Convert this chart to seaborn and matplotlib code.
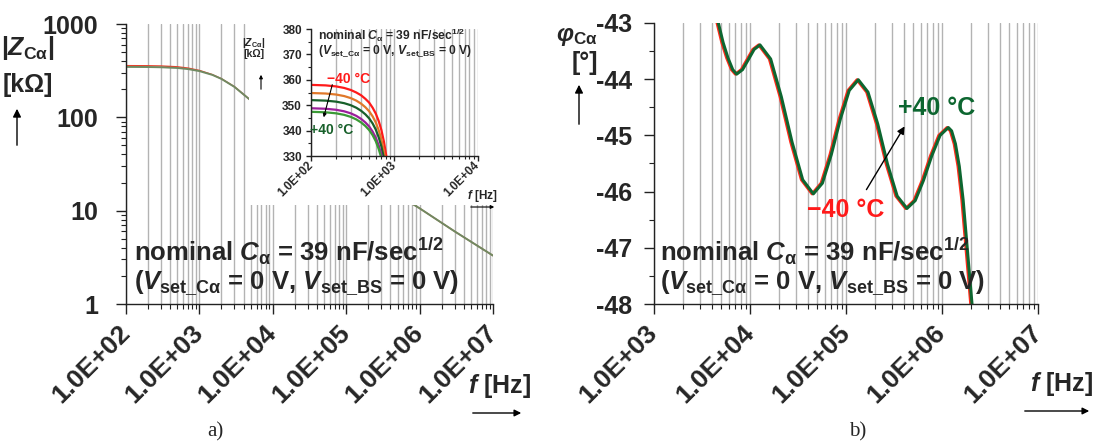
import matplotlib
matplotlib.use("Agg")
import matplotlib.pyplot as plt
import seaborn as sns
import pandas as pd
from matplotlib.patches import Rectangle, FancyArrowPatch
from matplotlib.ticker import LogLocator, NullFormatter, MultipleLocator

# ---------------- data ----------------
f_main = [100, 200, 300, 500, 700, 1000, 1500, 2000, 3000, 5000, 1e4, 3e4, 1e5, 3e5, 1e6, 3e6, 1e7]
z_main_red = [358, 357, 355, 348, 337, 318, 287, 259, 213, 152, 105, 60, 34, 19, 10.6, 6.0, 3.3]
z_main_green = [347, 346, 344, 338, 329, 313, 285, 258, 212, 152, 105, 60, 34, 19, 10.6, 6.0, 3.3]

f_in = [100, 150, 200, 250, 300, 350, 400, 450, 500, 550, 600, 650, 700, 750, 800, 850, 900]
z_in_m40 = [358.0, 357.8, 357.4, 356.8, 356.0, 355.0, 353.9, 352.5, 351.0, 349.0, 346.7, 343.8, 340.3, 335.8, 330.3, 324, 317]
z_in_m20 = [354.8, 354.6, 354.2, 353.6, 352.8, 351.8, 350.6, 349.2, 347.6, 345.6, 343.2, 340.2, 336.6, 332.0, 326.4, 320, 313]
z_in_0 = [352.0, 351.8, 351.4, 350.8, 350.0, 349.0, 347.8, 346.4, 344.8, 342.8, 340.4, 337.4, 333.8, 329.2, 323.6, 317, 310]
z_in_p20 = [348.8, 348.6, 348.2, 347.6, 346.8, 345.8, 344.6, 343.2, 341.6, 339.6, 337.2, 334.2, 330.6, 326.0, 320.4, 314, 307]
z_in_p40 = [347.4, 347.2, 346.8, 346.2, 345.4, 344.4, 343.2, 341.8, 340.2, 338.2, 335.8, 332.8, 329.2, 324.6, 319.0, 313, 306]
inset_colors = ["#ff1a1a", "#e0782a", "#17602a", "#9b1f9b", "#3a9a35"]

f_ph_green = [3.98e3, 4.68e3, 5.25e3, 5.89e3, 6.61e3, 7.26e3, 8.36e3, 9.62e3, 1.104e4, 1.271e4,
              1.641e4, 2.118e4, 2.742e4, 3.54e4, 4.571e4, 5.675e4, 7.031e4, 8.73e4, 1.081e5, 1.343e5,
              1.694e5, 2.143e5, 2.704e5, 3.412e5, 4.315e5, 5.26e5, 6.412e5, 7.834e5, 9.55e5, 1.164e6,
              1.259e6, 1.38e6, 1.514e6, 1.66e6, 1.82e6, 1.95e6, 2.054e6, 2.239e6]
ph_green = [-42.55, -43.0, -43.35, -43.62, -43.83, -43.91, -43.83, -43.65, -43.47, -43.39,
            -43.64, -44.31, -45.12, -45.79, -46.04, -45.85, -45.34, -44.71, -44.20, -44.01,
            -44.23, -44.80, -45.51, -46.08, -46.30, -46.16, -45.80, -45.36, -45.00, -44.86,
            -44.92, -45.15, -45.55, -46.15, -46.95, -47.55, -48.0, -48.8]
f_ph_red = [3.86e3, 4.54e3, 5.09e3, 5.71e3, 6.41e3, 7.04e3, 8.11e3, 9.33e3, 1.071e4, 1.233e4,
            1.591e4, 2.054e4, 2.66e4, 3.434e4, 4.434e4, 5.505e4, 6.82e4, 8.468e4, 1.049e5, 1.303e5,
            1.643e5, 2.079e5, 2.623e5, 3.31e5, 4.186e5, 5.102e5, 6.22e5, 7.599e5, 9.264e5, 1.129e6,
            1.221e6, 1.339e6, 1.469e6, 1.61e6, 1.765e6, 1.892e6, 1.992e6, 2.172e6]
ph_red = ph_green

x_ticks_a = [1e2, 1e3, 1e4, 1e5, 1e6, 1e7]
x_labels_a = ["1.0E+02", "1.0E+03", "1.0E+04", "1.0E+05", "1.0E+06", "1.0E+07"]
y_ticks_a = [1, 10, 100, 1000]
y_labels_a = ["1", "10", "100", "1000"]
x_ticks_in = [1e2, 1e3, 1e4]
x_labels_in = ["1.0E+02", "1.0E+03", "1.0E+04"]
y_ticks_in = [330, 340, 350, 360, 370, 380]
x_ticks_b = [1e3, 1e4, 1e5, 1e6, 1e7]
x_labels_b = ["1.0E+03", "1.0E+04", "1.0E+05", "1.0E+06", "1.0E+07"]
y_ticks_b = [-48, -47, -46, -45, -44, -43]

# ---------------- style ----------------
sns.set_theme(style="white")
plt.rcParams["font.family"] = ["Liberation Sans", "DejaVu Sans"]
plt.rcParams["font.weight"] = "bold"
plt.rcParams["mathtext.fontset"] = "custom"
plt.rcParams["mathtext.rm"] = "Liberation Sans:bold"
plt.rcParams["mathtext.it"] = "Liberation Sans:italic:bold"
plt.rcParams["mathtext.bf"] = "Liberation Sans:bold"
plt.rcParams["mathtext.sf"] = "Liberation Sans:bold"

W, H = 1111, 445
def fx(x): return x / W
def fy(y): return 1 - y / H
def box(x0, y0, x1, y1): return [fx(x0), fy(y1), (x1 - x0) / W, (y1 - y0) / H]

GRID = "#b3b3b3"
fig = plt.figure(figsize=(W / 100, H / 100), dpi=100)

def style_axes(ax, ylog, xfs, yfs, xpad, ypad, tl):
    for s in ["top", "right"]:
        ax.spines[s].set_visible(False)
    for s in ["left", "bottom"]:
        ax.spines[s].set_color("#222222")
        ax.spines[s].set_linewidth(1.0)
    ax.set_xscale("log")
    if ylog:
        ax.set_yscale("log")
    ax.xaxis.set_minor_locator(LogLocator(base=10, subs=range(2, 10), numticks=20))
    ax.xaxis.set_minor_formatter(NullFormatter())
    ax.tick_params(axis="both", which="major", direction="out", length=tl, width=1, color="#222222",
                   bottom=True, left=True)
    ax.tick_params(axis="both", which="minor", direction="out", length=tl * 0.55, width=0.8, color="#222222",
                   bottom=True, left=True)
    ax.tick_params(axis="x", pad=xpad, labelsize=xfs)
    ax.tick_params(axis="y", pad=ypad, labelsize=yfs)
    ax.grid(True, which="both", axis="x", color=GRID, lw=1.0)
    ax.grid(False, axis="y")
    ax.set_axisbelow(True)
    ax.set_xlabel("")
    ax.set_ylabel("")

# ---------------- panel a ----------------
axA = fig.add_axes(box(126, 24, 493, 304))
sns.lineplot(data=pd.DataFrame({"f": f_main, "z": z_main_red}), x="f", y="z", ax=axA, color="#e8412c", lw=1.0)
sns.lineplot(data=pd.DataFrame({"f": f_main, "z": z_main_green}), x="f", y="z", ax=axA, color="#6f8a62", lw=1.4)
style_axes(axA, True, 19, 18, 11, 13, 7)
axA.set_xlim(1e2, 1e7)
axA.set_ylim(1, 1000)
axA.yaxis.set_minor_locator(LogLocator(base=10, subs=range(2, 10), numticks=20))
axA.yaxis.set_minor_formatter(NullFormatter())
axA.set_xticks(x_ticks_a, x_labels_a, rotation=45, ha="right", va="center", rotation_mode="anchor")
axA.set_yticks(y_ticks_a, y_labels_a)

# white cover for inset
fig.add_artist(Rectangle((fx(249), fy(205)), fx(496) - fx(249), 205 / H, transform=fig.transFigure,
                         facecolor="white", edgecolor="none", zorder=0.5))

axI = fig.add_axes(box(311, 29, 477.5, 156))
axI.set_zorder(1)
for z, c in zip([z_in_m40, z_in_m20, z_in_0, z_in_p20, z_in_p40], inset_colors):
    sns.lineplot(data=pd.DataFrame({"f": f_in, "z": z}), x="f", y="z", ax=axI, color=c, lw=1.6)
style_axes(axI, False, 8.5, 8.5, 2, 3, 3.5)
axI.set_xlim(1e2, 1e4)
axI.set_ylim(330, 380)
axI.yaxis.set_minor_locator(MultipleLocator(5))
axI.set_xticks(x_ticks_in, x_labels_in, rotation=45, ha="right", va="center", rotation_mode="anchor")
axI.set_yticks(y_ticks_in, [str(v) for v in y_ticks_in])

# ---------------- panel b ----------------
axB = fig.add_axes(box(654, 23, 1038, 304))
sns.lineplot(data=pd.DataFrame({"f": f_ph_red, "p": ph_red}), x="f", y="p", ax=axB, color="#ff2a1a", lw=2.2)
sns.lineplot(data=pd.DataFrame({"f": f_ph_green, "p": ph_green}), x="f", y="p", ax=axB, color="#0d6630", lw=2.2)
style_axes(axB, False, 19, 18, 11, 9, 7)
axB.set_xlim(1e3, 1e7)
axB.set_ylim(-48, -43)
axB.yaxis.set_minor_locator(MultipleLocator(0.5))
axB.set_xticks(x_ticks_b, x_labels_b, rotation=45, ha="right", va="center", rotation_mode="anchor")
axB.set_yticks(y_ticks_b, [str(v) for v in y_ticks_b])

# ---------------- annotations ----------------
def arrow(x0, y0, x1, y1, ms=10, lw=1.0):
    fig.add_artist(FancyArrowPatch((fx(x0), fy(y0)), (fx(x1), fy(y1)), transform=fig.transFigure,
                                   arrowstyle="-|>", mutation_scale=ms, lw=lw, color="black", zorder=5))

# left y label
fig.text(fx(28), fy(48), r"$|Z_{\mathrm{C\alpha}}|$", ha="center", va="center", fontsize=18)
fig.text(fx(28), fy(85), "[kΩ]", ha="center", va="center", fontsize=18)
arrow(17, 148, 17, 106, ms=12)
# right y label
fig.text(fx(577), fy(37), r"$\varphi_{\mathrm{C\alpha}}$", ha="center", va="center", fontsize=17.5)
fig.text(fx(585), fy(63), "[°]", ha="center", va="center", fontsize=18)
arrow(579, 127, 579, 82, ms=12)

# inset y label
fig.text(fx(254), fy(43), r"$|Z_{\mathrm{C\alpha}}|$", ha="center", va="center", fontsize=7.5, zorder=6)
fig.text(fx(254), fy(54), "[kΩ]", ha="center", va="center", fontsize=7.5, zorder=6)
arrow(261, 92, 261, 72, ms=5, lw=0.8)

# f [Hz]
fig.text(fx(500), fy(386), r"$f$ [Hz]", ha="center", va="center", fontsize=18)
arrow(470, 413, 524, 413, ms=10)
fig.text(fx(1062), fy(384), r"$f$ [Hz]", ha="center", va="center", fontsize=18)
arrow(1022, 411, 1092, 411, ms=10)
fig.text(fx(482), fy(196), r"$f$ [Hz]", ha="center", va="center", fontsize=8.5, zorder=6)
arrow(468, 207, 497, 207, ms=5, lw=0.8)

# nominal text
nom1 = r"nominal $C_{\mathregular{\alpha}}$ = 39 nF/sec$^{1/2}$"
nom2 = r"($V_{\mathrm{set\_C\alpha}}$ = 0 V, $V_{\mathrm{set\_BS}}$ = 0 V)"
fig.text(fx(134), fy(251), nom1, ha="left", va="center", fontsize=18.5)
fig.text(fx(134), fy(283), nom2, ha="left", va="center", fontsize=18.5)
fig.text(fx(660), fy(251), nom1, ha="left", va="center", fontsize=18.5)
fig.text(fx(660), fy(283), nom2, ha="left", va="center", fontsize=18.5)
fig.text(fx(318), fy(35), nom1, ha="left", va="center", fontsize=8.7, zorder=6)
fig.text(fx(318), fy(50.5), nom2, ha="left", va="center", fontsize=8.7, zorder=6)

# temperature labels
fig.text(fx(349), fy(79), "\u221240 °C", ha="center", va="center", fontsize=10, color="#ff1a1a", zorder=6)
fig.text(fx(332), fy(130), "+40 °C", ha="center", va="center", fontsize=10, color="#17602a", zorder=6)
arrow(333, 82, 323, 120, ms=5, lw=0.8)

fig.text(fx(846), fy(210), "\u221240 °C", ha="center", va="center", fontsize=18, color="#ff1a1a")
fig.text(fx(937), fy(108), "+40 °C", ha="center", va="center", fontsize=18, color="#0d6630")
arrow(865, 192, 906, 124, ms=11)

# captions
fig.text(fx(215), fy(432), "a)", ha="center", va="center", fontsize=15, family="Liberation Serif", weight="normal")
fig.text(fx(858), fy(432), "b)", ha="center", va="center", fontsize=15, family="Liberation Serif", weight="normal")

fig.savefig("out.png", dpi=100)
